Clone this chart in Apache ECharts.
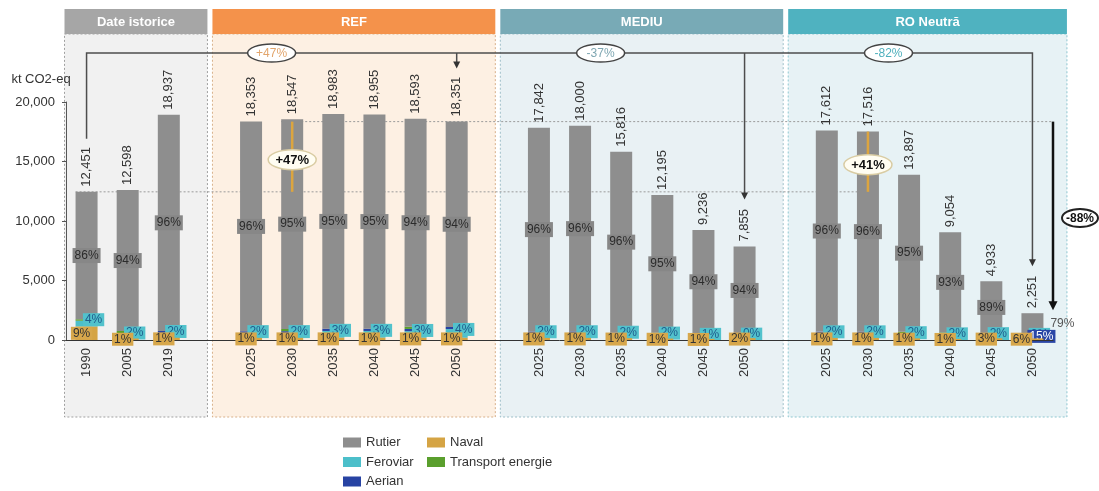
<!DOCTYPE html>
<html><head><meta charset="utf-8">
<script src="https://cdn.jsdelivr.net/npm/echarts@6/dist/echarts.min.js"></script>
<style>html,body{margin:0;padding:0;background:#fff}#c{width:1099px;height:491px}</style>
</head><body><div id="c"></div>
<script>
// ---------- DATA ----------
const categories = ['1990','2005','2019','', '2025','2030','2035','2040','2045','2050','', '2025','2030','2035','2040','2045','2050','', '2025','2030','2035','2040','2045','2050'];
const totals     = [12451,12598,18937,null, 18353,18547,18983,18955,18593,18351,null, 17842,18000,15816,12195,9236,7855,null, 17612,17516,13897,9054,4933,2251];
const rutierPct  = [86,94,96,null, 96,95,95,95,94,94,null, 96,96,96,95,94,94,null, 96,96,95,93,89,79];
const navalPct   = [9,1,1,null, 1,1,1,1,1,1,null, 1,1,1,1,1,2,null, 1,1,1,1,3,6];
const ferPct     = [4,2,2,null, 2,2,3,3,3,4,null, 2,2,2,2,1,0,null, 2,2,2,2,2,0];
const aerianPct  = [0,1,1,null, 1,1,1,1,1,1,null, 1,1,1,1,2,3,null, 1,1,1,2,3,15];
const energiePct = [1,2,0,null, 0,1,0,0,1,0,null, 0,0,0,1,2,1,null, 0,0,1,2,3,0];
const yTicks = [0, 5000, 10000, 15000, 20000];

const panelNames = ['Date istorice', 'REF', 'MEDIU', 'RO Neutră'];
const panelStart = [0, 4, 11, 18];
const panelEnd   = [2, 9, 16, 23];

// annotations (category indices and texts)
const baseIdx = 0;                       // 1990
const bracketTargets = [9, 16, 23];      // REF 2050, MEDIU 2050, RO 2050
const bracketTexts = ['+47%', '-37%', '-82%'];
const innerIdx = [5, 19];                // REF 2030, RO 2030
const innerTopIdx = [9, 19];             // level compared with 1990
const innerTexts = ['+47%', '+41%'];
const dropFromIdx = 9, dropToIdx = 23, dropText = '-88%';

// ---------- STYLE / LAYOUT ----------
const FONT = '"Liberation Sans", Arial, sans-serif';
const PANEL_STYLE = [
  {bg:'#f1f1f1', head:'#a6a6a6', border:'#a0a0a0'},
  {bg:'#fdf0e3', head:'#f4924b', border:'#d8b08a'},
  {bg:'#e9f1f4', head:'#78aab6', border:'#9dbfc8'},
  {bg:'#e7f2f5', head:'#4fb2c0', border:'#8ec7d0'}
];
const BRACKET_TEXT_COLORS = ['#e2a56c', '#7fa7b2', '#4fb0bd'];
const BUBBLE_AT = [4.5, 12.5, 19.5];
const C = {rutier:'#8e8e8e', naval:'#d5a444', fer:'#4cbfca', aer:'#2743a3', ene:'#5a9f2d'};

const fmt = v => String(v).replace(/\B(?=(\d{3})+(?!\d))/g, ',');
const part = pct => totals.map((t, i) => t == null ? '-' : Math.round(t * pct[i] / 100));
const navalVals = part(navalPct), ferVals = part(ferPct), aerVals = part(aerianPct),
      eneVals = part(energiePct), rutVals = part(rutierPct);

function renderPanels(params, api) {
  const i = params.dataIndex, cs = params.coordSys;
  const band = api.size([1, 0])[0];
  const xs = api.coord([panelStart[i], 0])[0], xe = api.coord([panelEnd[i], 0])[0];
  const last = i === panelNames.length - 1;
  const left = i === 0 ? xs - band / 2 - 1.5 : xs - band + 2.5;
  const right = last ? xe + 34.5 : xe + band - 2.5;
  const top = cs.y - 93, headH = 25, bottom = cs.y + cs.height + 77;
  const st = PANEL_STYLE[i];
  return {type:'group', children:[
    {type:'rect', shape:{x:left, y:top + headH, width:right - left, height:bottom - top - headH},
     style:{fill:st.bg, stroke:st.border, lineWidth:1, lineDash:[2, 2]}},
    {type:'rect', shape:{x:left, y:top, width:right - left, height:headH}, style:{fill:st.head}},
    {type:'text', style:{text:panelNames[i], x:(left + right) / 2, y:top + headH / 2 + 1, align:'center',
      verticalAlign:'middle', fill:'#fff', font:'bold 13px ' + FONT}}
  ]};
}

function renderRefLines(params, api) {
  const band = api.size([1, 0])[0];
  const X = i => api.coord([i, 0])[0], Y = v => api.coord([0, v])[1];
  const st = {stroke:'#9a9a9a', lineWidth:1, lineDash:[2, 2]};
  return {type:'group', children:[
    {type:'line', shape:{x1:X(baseIdx) - 11, y1:Y(totals[baseIdx]), x2:X(innerIdx[1]), y2:Y(totals[baseIdx])}, style:st},
    {type:'line', shape:{x1:X(innerIdx[0]) - 11, y1:Y(totals[dropFromIdx]), x2:X(dropToIdx) + band / 2, y2:Y(totals[dropFromIdx])}, style:st}
  ]};
}

function arrowHead(x, tip, w, h, color) {
  return {type:'polygon', shape:{points:[[x - w / 2, tip - h], [x + w / 2, tip - h], [x, tip]]}, style:{fill:color}};
}

function renderAnno(params, api) {
  const cs = params.coordSys;
  const band = api.size([1, 0])[0];
  const X = i => api.coord([i, 0])[0], Y = v => api.coord([0, v])[1];
  const clear = i => 16 + 6.2 * fmt(totals[i]).length;
  const topY = cs.y - 49;
  const ch = [];
  const lineSt = {stroke:'#4d4d4d', lineWidth:1.5, fill:null};
  const lastT = bracketTargets[bracketTargets.length - 1];
  ch.push({type:'polyline', shape:{points:[[X(baseIdx), Y(totals[baseIdx]) - clear(baseIdx)], [X(baseIdx), topY],
    [X(lastT), topY], [X(lastT), Y(totals[lastT]) - clear(lastT) - 6]]}, style:lineSt});
  ch.push(arrowHead(X(lastT), Y(totals[lastT]) - clear(lastT), 7, 7, '#333'));
  bracketTargets.slice(0, -1).forEach(t => {
    ch.push({type:'line', shape:{x1:X(t), y1:topY, x2:X(t), y2:Y(totals[t]) - clear(t) - 6}, style:lineSt});
    ch.push(arrowHead(X(t), Y(totals[t]) - clear(t), 7, 7, '#333'));
  });
  bracketTexts.forEach((txt, k) => {
    const b = BUBBLE_AT[k], x = X(Math.floor(b)) + (b - Math.floor(b)) * band;
    ch.push({type:'ellipse', shape:{cx:x, cy:topY, rx:24, ry:9}, style:{fill:'#fff', stroke:'#444', lineWidth:1.5}});
    ch.push({type:'text', style:{text:txt, x:x, y:topY + 1, align:'center', verticalAlign:'middle',
      fill:BRACKET_TEXT_COLORS[k], font:'12px ' + FONT}});
  });
  innerIdx.forEach((idx, k) => {
    const y1 = Y(totals[baseIdx]), y2 = Y(totals[innerTopIdx[k]]);
    ch.push({type:'line', shape:{x1:X(idx), y1:y1, x2:X(idx), y2:y2}, style:{stroke:'#dca53f', lineWidth:2.5}});
    const ym = (y1 + y2) / 2 + 3;
    ch.push({type:'ellipse', shape:{cx:X(idx), cy:ym, rx:24, ry:10}, style:{fill:'#fffdf2', stroke:'#d9cca3', lineWidth:1.5}});
    ch.push({type:'text', style:{text:innerTexts[k], x:X(idx), y:ym + 1, align:'center', verticalAlign:'middle',
      fill:'#111', font:'bold 13px ' + FONT}});
  });
  const dx = X(dropToIdx) + band / 2;
  const dy1 = Y(totals[dropFromIdx]), dy2 = Y(totals[dropToIdx]) - 3;
  ch.push({type:'line', shape:{x1:dx, y1:dy1, x2:dx, y2:dy2 - 7}, style:{stroke:'#111', lineWidth:2.5}});
  ch.push(arrowHead(dx, dy2, 9, 9, '#111'));
  const bx = dx + 27, by = (dy1 + dy2) / 2 + 2;
  ch.push({type:'ellipse', shape:{cx:bx, cy:by, rx:18, ry:9}, style:{fill:'#fff', stroke:'#222', lineWidth:2}});
  ch.push({type:'text', style:{text:dropText, x:bx, y:by + 1, align:'center', verticalAlign:'middle',
    fill:'#111', font:'bold 12px ' + FONT}});
  return {type:'group', children:ch};
}

const pctLabel = (arr) => p => arr[p.dataIndex] + '%';
const BW = 22;
const legendCommon = {orient:'vertical', top:436, padding:0, height:62, itemWidth:18, itemHeight:10, itemGap:6.5,
  icon:'rect', textStyle:{fontSize:13, color:'#333', fontFamily:FONT}, selectedMode:false};

const option = {
  animation: false,
  backgroundColor: '#fff',
  textStyle: {fontFamily: FONT},
  grid: {left: 66, right: 46, top: 102, bottom: 151},
  legend: [
    Object.assign({data:['Rutier','Feroviar','Aerian'], left:343}, legendCommon),
    Object.assign({data:['Naval','Transport energie'], left:427}, legendCommon)
  ],
  xAxis: {
    type:'category', data:categories, z:3,
    axisLine:{show:true, lineStyle:{color:'#333', width:1}},
    axisTick:{show:false},
    axisLabel:{interval:0, rotate:90, fontSize:13, color:'#333', margin:8, fontFamily:FONT}
  },
  yAxis: {
    type:'value', min:yTicks[0], max:yTicks[yTicks.length - 1], interval:yTicks[1] - yTicks[0], z:3,
    name:'kt CO2-eq', nameLocation:'end', nameGap:16,
    nameTextStyle:{fontSize:13, color:'#333', align:'center', padding:[0, 50, 0, 0], fontFamily:FONT},
    axisLine:{show:true, lineStyle:{color:'#555', width:1}},
    axisTick:{show:true, length:4, lineStyle:{color:'#555'}},
    splitLine:{show:false},
    axisLabel:{fontSize:13, color:'#333', margin:11, formatter:v => fmt(v), fontFamily:FONT}
  },
  series: [
    {type:'custom', name:'panels', z:0, silent:true, clip:false, renderItem:renderPanels,
     data: panelStart.map(s => [s, 0])},
    {type:'custom', name:'refs', z:1, silent:true, clip:false, renderItem:renderRefLines, data:[[0, 0]]},
    {type:'bar', name:'Naval', stack:'t', barWidth:BW, itemStyle:{color:C.naval}, z:3,
     data: navalVals.map((v, i) => aerianPct[i] >= 10 ? {value:v, label:{offset:[-11, 0]}} : v),
     label:{show:true, position:'inside', offset:[-5, 0], formatter:pctLabel(navalPct), backgroundColor:'#d7a74b',
       color:'#333', fontSize:12, padding:[1, 2, 0, 2], fontFamily:FONT}},
    {type:'bar', name:'Feroviar', stack:'t', barWidth:BW, data:ferVals, itemStyle:{color:C.fer}, z:2,
     label:{show:true, position:'inside', offset:[7, -4], formatter:pctLabel(ferPct), backgroundColor:'#52c2cc',
       color:'#1f5a8c', fontSize:12, padding:[1, 2, 0, 2], fontFamily:FONT}},
    {type:'bar', name:'Aerian', stack:'t', barWidth:BW, itemStyle:{color:C.aer}, z:2,
     data: aerVals.map((v, i) => aerianPct[i] >= 10 ? {value:v, label:{show:true}} : v),
     label:{show:false, position:'inside', offset:[9, 0], formatter:pctLabel(aerianPct), backgroundColor:'#2a46a6',
       color:'#fff', fontSize:12, padding:[1, 2, 0, 2], fontFamily:FONT}},
    {type:'bar', name:'Transport energie', stack:'t', barWidth:BW, data:eneVals, itemStyle:{color:C.ene}, z:2},
    {type:'bar', name:'Rutier', stack:'t', barWidth:BW, itemStyle:{color:C.rutier}, z:2,
     data: rutVals.map(v => (v !== '-' && v < 2000) ? {value:v, label:{position:'right', distance:5,
       backgroundColor:'transparent', color:'#555'}} : v),
     label:{show:true, position:'inside', formatter:pctLabel(rutierPct), backgroundColor:'#878787',
       color:'#2b2b2b', fontSize:12, padding:[2, 2, 1, 2], fontFamily:FONT}},
    {type:'bar', name:'Total', barWidth:BW, barGap:'-100%', silent:true, z:1,
     data: totals.map(t => t == null ? '-' : t), itemStyle:{color:'rgba(0,0,0,0)'},
     label:{show:true, position:'top', rotate:90, align:'left', verticalAlign:'middle', distance:5,
       formatter:p => fmt(p.value), fontSize:13, color:'#333', fontFamily:FONT}},
    {type:'custom', name:'anno', z:5, silent:true, clip:false, renderItem:renderAnno, data:[[0, 0]]}
  ]
};
const chart = echarts.init(document.getElementById('c'), null, {renderer:'canvas'});
chart.setOption(option);
</script></body></html>
